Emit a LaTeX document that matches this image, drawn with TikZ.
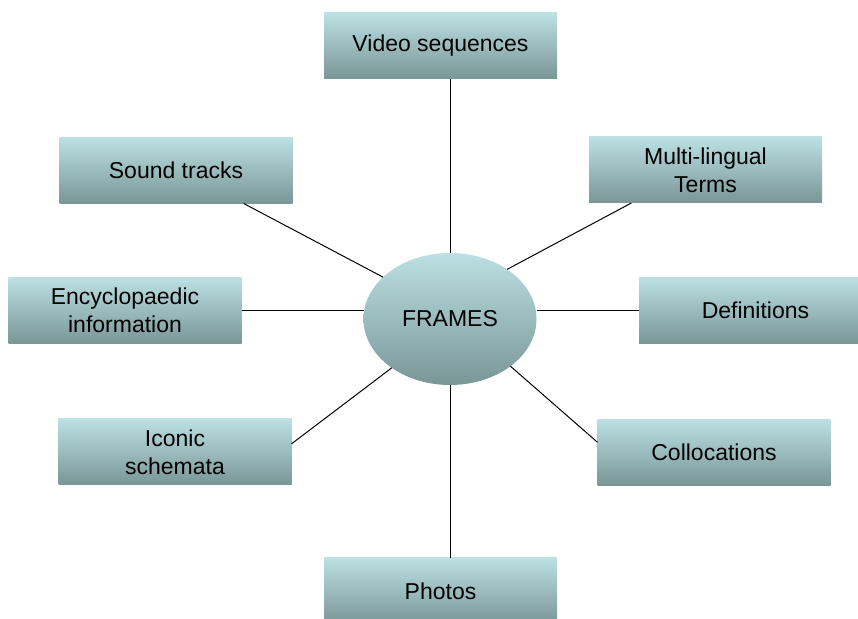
\documentclass[tikz,border=0pt]{standalone}
\usepackage{fontspec}
\setmainfont{Liberation Sans}
\usetikzlibrary{positioning,shapes.geometric}
\definecolor{boxtop}{RGB}{188,224,227}
\definecolor{boxbot}{RGB}{122,150,150}
\tikzset{T node/.style={rectangle,top color=boxtop,bottom color=boxbot,draw=none,minimum width=116.5pt,minimum height=33pt,inner sep=0pt,outer sep=0pt,align=center,font=\fontsize{11.5}{14}\selectfont},
	C node/.style={ellipse,top color=boxtop,bottom color=boxbot,draw=none,minimum width=86.5pt,minimum height=66pt,inner sep=0pt,outer sep=0pt,font=\fontsize{11.5}{14}\selectfont},}

\begin{document}
\begin{tikzpicture}[x=0.5pt,y=0.5pt]
			\useasboundingbox (0,0) rectangle (858,619);

			\node[C node] (frames) at (450,300) {FRAMES};

			\node[T node] (video) at (440.5,573) {Video sequences};
			\node[T node] (sound) at (176,448.5) {Sound tracks};
			\node[T node] (multi) at (705.5,449) {Multi-lingual\\Terms};
			\node[T node] (ency) at (125,308.5) {Encyclopaedic\\information};
			\node[T node] (defs) at (755.5,308.5) {Definitions};
			\node[T node] (iconic) at (175,167) {Iconic\\schemata};
			\node[T node] (colloc) at (714,166.5) {Collocations};
			\node[T node] (photos) at (440.5,28) {Photos};

			\path[draw, line width=0.5pt]
				(frames.north) edge (frames.north |- video.south)
				(frames.148) edge (sound.-26)
				(frames.41) edge (multi.204)
				(ency.east -| frames.west) edge (ency.east)
				(frames.east |- defs.west) edge (defs.west)
				(frames.220) edge (iconic.4)
				(frames.-38) edge (colloc.175)
				(frames.south) edge (frames.south |- photos.north);
		\end{tikzpicture}
\end{document}
